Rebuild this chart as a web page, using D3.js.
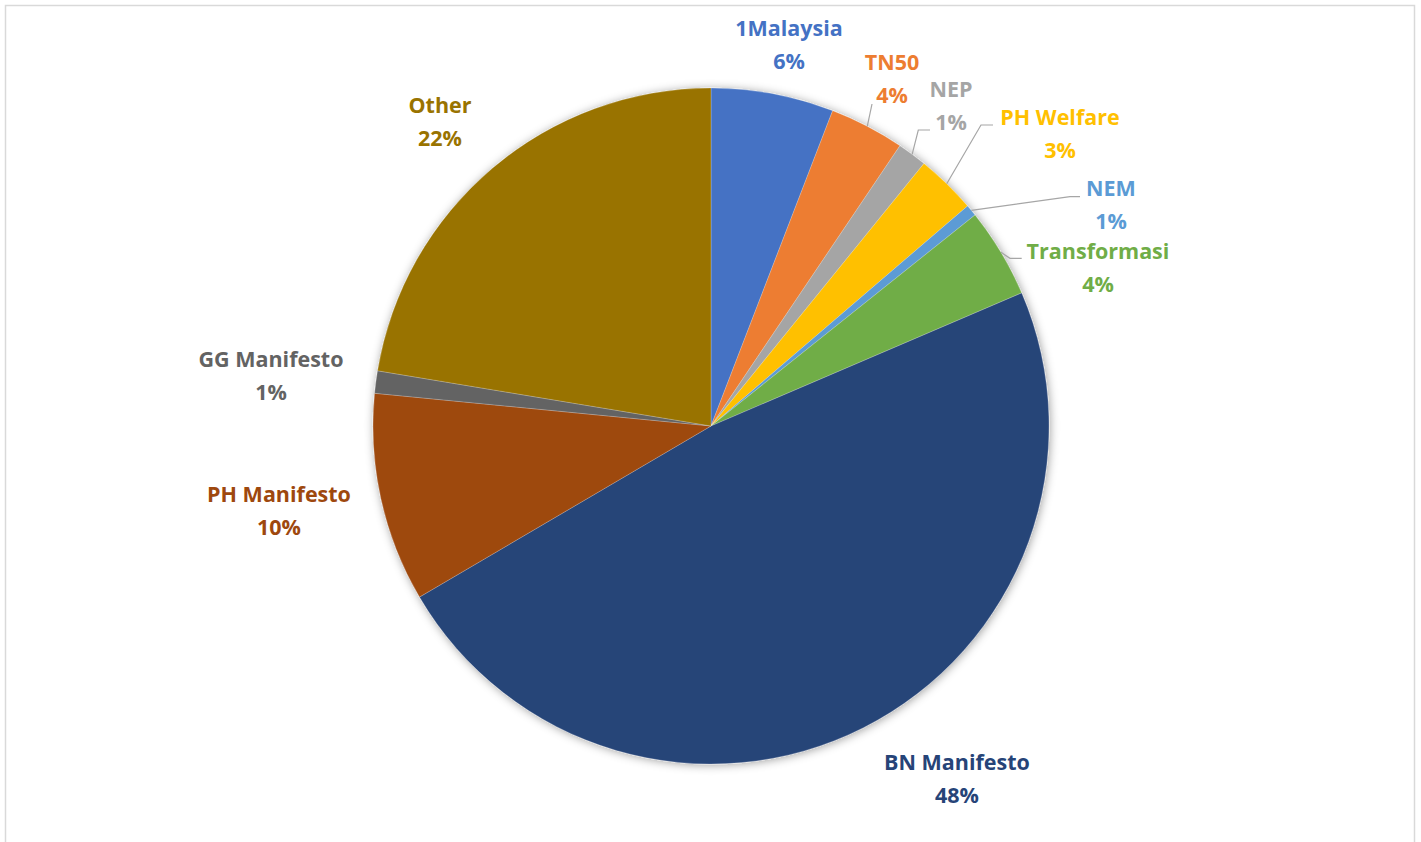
<!DOCTYPE html>
<html>
<head>
<meta charset="utf-8">
<script src="https://cdn.jsdelivr.net/npm/d3@7"></script>
<style>
  html, body { margin: 0; padding: 0; background: #fff; }
  svg { display: block; }
</style>
</head>
<body>
<svg id="chart" width="1421" height="842"></svg>
<script>
// ---- data ----
const categories = ["1Malaysia", "TN50", "NEP", "PH Welfare", "NEM", "Transformasi",
                    "BN Manifesto", "PH Manifesto", "GG Manifesto", "Other"];
const values = [5.86, 3.58, 1.41, 2.87, 0.55, 4.29, 48.0, 9.99, 1.07, 22.39];
const colors = ["#4472C4", "#ED7D31", "#A5A5A5", "#FFC000", "#5B9BD5", "#70AD47",
                "#264478", "#9E480E", "#636363", "#997300"];

// ---- layout (label block centres relative to pie centre, leader elbows) ----
const labelPos = [
  [78, -381], [181, -347.5], [240, -320], [349, -292.5], [400, -221], [387, -158],
  [246, 352.5], [-432, 85], [-440, -50.5], [-271, -304.5]
];
const leaders = [
  null, [[161, -322], [161, -322]], [[207.3, -296], [219, -296]],
  [[270, -301], [282, -301]], [[359, -229.3], [369, -229.3]],
  [[299, -167.7], [310.7, -167.7]], null, null, null, null
];

const W = 1421, H = 842;
const cx = 711, cy = 426, R = 338;
const svg = d3.select("#chart");

// chart area border
svg.append("rect").attr("x", 5.5).attr("y", 5.5).attr("width", 1409).attr("height", 860)
  .attr("fill", "#fff").attr("stroke", "#d9d9d9").attr("stroke-width", 1.5);

const defs = svg.append("defs");
const f = defs.append("filter").attr("id", "shadow")
  .attr("x", "-10%").attr("y", "-10%").attr("width", "120%").attr("height", "120%");
f.append("feDropShadow").attr("dx", 1).attr("dy", 1).attr("stdDeviation", 5)
  .attr("flood-color", "#000").attr("flood-opacity", 0.38);

const data = categories.map((c, i) => ({ name: c, value: values[i], color: colors[i], i }));
const pie = d3.pie().value(d => d.value).sort(null);
const arcs = pie(data);
const arc = d3.arc().innerRadius(0).outerRadius(R);

const g = svg.append("g").attr("transform", `translate(${cx},${cy})`);
const slices = g.append("g").attr("filter", "url(#shadow)");
slices.selectAll("path").data(arcs).join("path")
  .attr("d", arc)
  .attr("fill", d => d.data.color)
  .attr("stroke", "#ffffff")
  .attr("stroke-opacity", 0.35)
  .attr("stroke-width", 0.6);

const total = d3.sum(values);
const fmt = v => Math.round(v / total * 100) + "%";

// leader lines
arcs.forEach((a, i) => {
  const L = leaders[i];
  if (!L) return;
  const mid = (a.startAngle + a.endAngle) / 2;
  const p0 = [R * Math.sin(mid), -R * Math.cos(mid)];
  g.append("path")
    .attr("d", d3.line()([p0, L[0], L[1]]))
    .attr("fill", "none").attr("stroke", "#a6a6a6").attr("stroke-width", 1.2);
});

// labels
const lbl = g.append("g")
  .attr("font-family", "'Open Sans', Lato, sans-serif")
  .attr("font-weight", "bold")
  .attr("font-size", 21.5)
  .attr("text-anchor", "middle");
arcs.forEach((a, i) => {
  const [lx, ly] = labelPos[i];
  const t = lbl.append("text").attr("fill", a.data.color);
  t.append("tspan").attr("x", lx).attr("y", ly - 16.5 + 7.7).text(a.data.name);
  t.append("tspan").attr("x", lx).attr("y", ly + 16.5 + 7.7).text(fmt(a.data.value));
});
</script>
</body>
</html>
